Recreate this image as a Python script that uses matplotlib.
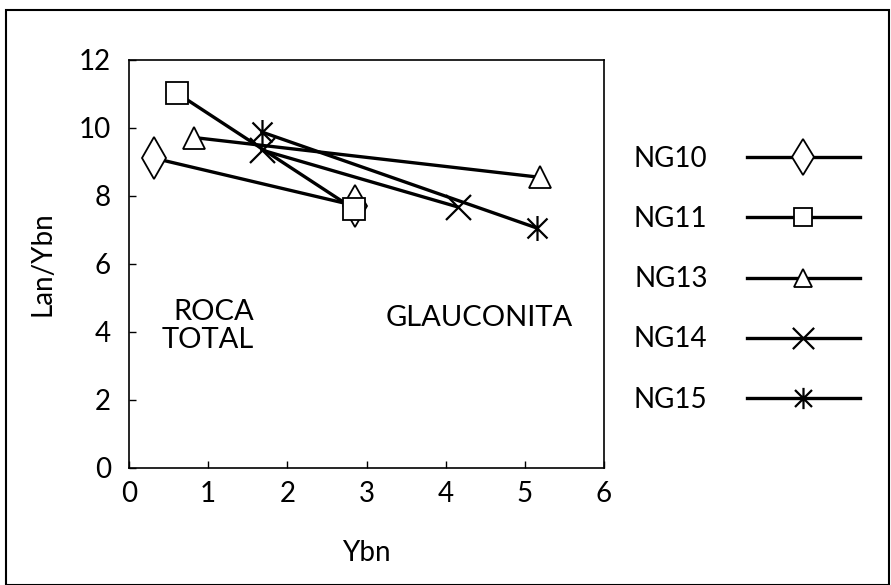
import matplotlib
matplotlib.use("Agg")
import matplotlib.pyplot as plt
from matplotlib.path import Path
from matplotlib.patches import Rectangle

plt.rcParams['font.family'] = ['Lato', 'DejaVu Sans']

series = ['NG10', 'NG11', 'NG13', 'NG14', 'NG15']
x_vals = {
    'NG10': [0.32, 2.85],
    'NG11': [0.61, 2.84],
    'NG13': [0.82, 5.19],
    'NG14': [1.68, 4.15],
    'NG15': [1.68, 5.15],
}
y_vals = {
    'NG10': [9.11, 7.72],
    'NG11': [11.02, 7.62],
    'NG13': [9.72, 8.55],
    'NG14': [9.35, 7.68],
    'NG15': [9.88, 7.06],
}
x_ticks = [0, 1, 2, 3, 4, 5, 6]
y_ticks = [0, 2, 4, 6, 8, 10, 12]

# asterisk marker: X plus vertical bar
ast = Path([(-1, -1), (1, 1), (-1, 1), (1, -1), (0, -1.25), (0, 1.25)],
           [Path.MOVETO, Path.LINETO, Path.MOVETO, Path.LINETO, Path.MOVETO, Path.LINETO])
xm = Path([(-1, -1), (1, 1), (-1, 1), (1, -1)],
          [Path.MOVETO, Path.LINETO, Path.MOVETO, Path.LINETO])

styles = {
    'NG10': dict(marker='d', ms=21, mfc='white', mew=1.3),
    'NG11': dict(marker='s', ms=16, mfc='white', mew=1.3),
    'NG13': dict(marker='^', ms=16, mfc='white', mew=1.3),
    'NG14': dict(marker=xm, ms=18, mfc='none', mew=1.6),
    'NG15': dict(marker=ast, ms=18, mfc='none', mew=1.6),
}

FS = 20

fig = plt.figure(figsize=(8.91, 5.85), dpi=100)
ax = fig.add_axes([129 / 891, 1 - 468 / 585, (604 - 129) / 891, (468 - 60) / 585])

for s in series:
    ax.plot(x_vals[s], y_vals[s], color='black', lw=2.4, mec='black',
            label=s, **styles[s])

ax.set_xlim(0, 6)
ax.set_ylim(0, 12)
ax.set_xticks(x_ticks)
ax.set_yticks(y_ticks)
ax.tick_params(direction='in', length=5, width=1, labelsize=FS)
ax.tick_params(axis='x', pad=9)
ax.tick_params(axis='y', pad=13)
for sp in ax.spines.values():
    sp.set_linewidth(1.2)

ax.set_xlabel('Ybn', fontsize=FS, labelpad=24)
ax.set_ylabel('Lan/Ybn', fontsize=FS, labelpad=17)

ax.text(1.575, 4.17, 'ROCA\nTOTAL', fontsize=21, ha='right', va='center',
        multialignment='right', linespacing=1.08)
ax.text(4.42, 4.4, 'GLAUCONITA', fontsize=21, ha='center', va='center')

leg = ax.legend(loc='upper left', bbox_to_anchor=(609 / 891, 1 - 121 / 585),
                bbox_transform=fig.transFigure, frameon=False, markerfirst=False,
                numpoints=1, fontsize=FS, handlelength=4.1, handletextpad=1.4,
                labelspacing=1.23, markerscale=0.85, borderpad=0.4)

fig.add_artist(Rectangle((6 / 891, 0), (889 - 6) / 891, 1 - 10 / 585,
                         transform=fig.transFigure, fill=False, lw=1.5,
                         edgecolor='black'))

fig.savefig('out.png', dpi=100)
